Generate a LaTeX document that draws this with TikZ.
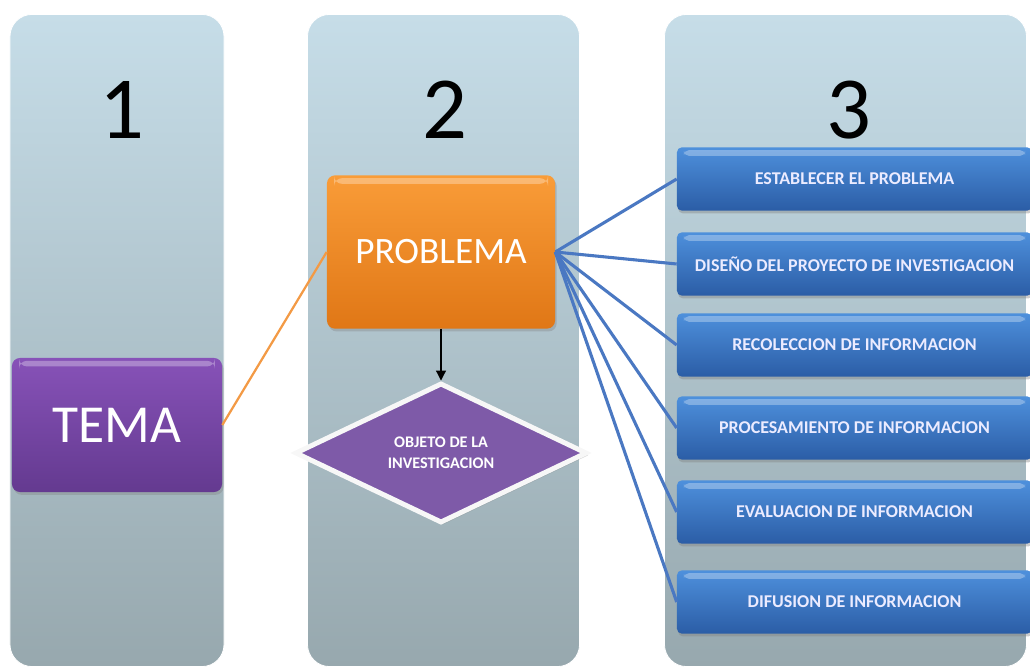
\documentclass[tikz,border=0pt]{standalone}
\usepackage{fontspec}
\setmainfont{Carlito}
\usetikzlibrary{positioning,shapes.geometric,arrows.meta,shadows}

\definecolor{colTop}{HTML}{C6DDE8}
\definecolor{colBot}{HTML}{97A8AE}
\definecolor{temaTop}{HTML}{8752B8}
\definecolor{temaBot}{HTML}{643A90}
\definecolor{probTop}{HTML}{F99C38}
\definecolor{probBot}{HTML}{E07716}
\definecolor{pasoTop}{HTML}{4E90DC}
\definecolor{pasoBot}{HTML}{2B5DA6}
\definecolor{objFill}{HTML}{7E5AA8}
\definecolor{lineBlue}{HTML}{4A78C2}
\definecolor{lineOrange}{HTML}{F39A45}

\begin{document}
\begin{tikzpicture}[x=0.025cm,y=-0.025cm]
    % Styles
    \tikzstyle{column} = [rectangle, rounded corners=0.55cm, minimum height=16.3cm,
    top color=colTop, bottom color=colBot, draw=white, line width=0.6pt]
    \tikzstyle{numero} = [font=\fontsize{63}{63}\selectfont]
    \tikzstyle{gloss} = [path picture={\fill[white, opacity=0.3]
        ([xshift=5pt,yshift=-2pt]path picture bounding box.north west) rectangle
        ([xshift=-5pt,yshift=-6pt]path picture bounding box.north east);}]
    \tikzstyle{tema} = [rectangle, rounded corners=0.2cm, minimum width=5.25cm,
    minimum height=3.35cm, top color=temaTop, bottom color=temaBot, text=white,
    font=\fontsize{38}{40}\selectfont, gloss,
    drop shadow={opacity=0.35, shadow xshift=0.04cm, shadow yshift=-0.07cm}]
    \tikzstyle{problema} = [rectangle, rounded corners=0.2cm, minimum width=5.7cm,
    minimum height=3.83cm, top color=probTop, bottom color=probBot, text=white,
    font=\fontsize{26.5}{28}\selectfont, gloss,
    drop shadow={opacity=0.35, shadow xshift=0.04cm, shadow yshift=-0.07cm}]
    \tikzstyle{paso} = [rectangle, rounded corners=0.12cm, minimum width=8.875cm,
    minimum height=1.58cm, top color=pasoTop, bottom color=pasoBot,
    text=white!92!blue, font=\bfseries\fontsize{12.8}{14}\selectfont, gloss,
    drop shadow={opacity=0.4, shadow xshift=0.03cm, shadow yshift=-0.07cm}]
    \tikzstyle{objeto} = [diamond, minimum width=7.3cm, minimum height=3.5cm,
    inner sep=0pt, fill=objFill, draw=white!94!gray, line width=3.5pt,
    text=white, align=center, font=\bfseries\fontsize{11.5}{15}\selectfont,
    drop shadow={opacity=0.3, shadow xshift=0.05cm, shadow yshift=-0.06cm}]

    \useasboundingbox (0,0) rectangle (1030,668);

    % Columns
    \node (col1) [column, minimum width=5.35cm] at (117,340.5) {};
    \node (col2) [column, minimum width=6.8cm] at (443.5,340.5) {};
    \node (col3) [column, minimum width=9.05cm] at (845.5,340.5) {};
    \node (num1) [numero] at (122,110) {1};
    \node (num2) [numero] at (445,110) {2};
    \node (num3) [numero] at (849,110) {3};

    % Nodes
    \node (tema) [tema] at (117,425) {TEMA};
    \node (problema) [problema] at (441,252) {PROBLEMA};
    \node (obj) [objeto] at (441,453) {OBJETO DE LA\\INVESTIGACION};
    \node (paso1) [paso] at (854.5,179) {ESTABLECER EL PROBLEMA};
    \node (paso2) [paso] at (854.5,264) {DISEÑO DEL PROYECTO DE INVESTIGACION};
    \node (paso3) [paso] at (854.5,345) {RECOLECCION DE INFORMACION};
    \node (paso4) [paso] at (854.5,428) {PROCESAMIENTO DE INFORMACION};
    \node (paso5) [paso] at (854.5,512) {EVALUACION DE INFORMACION};
    \node (paso6) [paso] at (854.5,602) {DIFUSION DE INFORMACION};

    % Arrows
    \draw[lineOrange, line width=1.6pt] (tema.east) -- (problema.west);
    \foreach \i in {1,...,6}
        \draw[lineBlue, line width=2.2pt] (problema.east) -- (paso\i.west);
    \draw[-{Triangle[length=7pt,width=7pt]}, line width=0.8pt] (problema.south) -- (obj.north);
\end{tikzpicture}
\end{document}
